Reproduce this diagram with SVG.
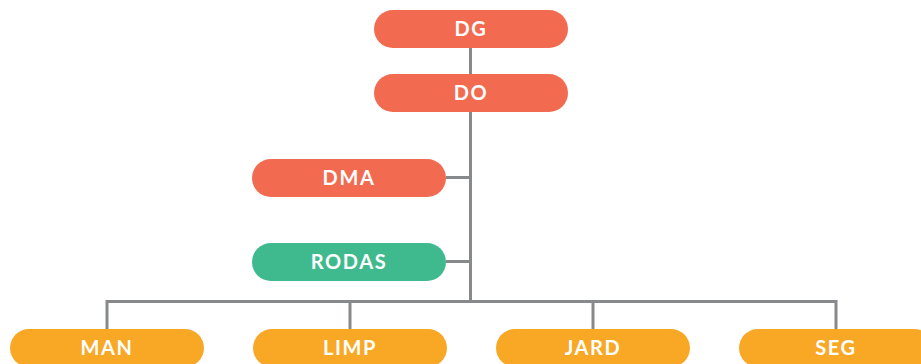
<svg xmlns="http://www.w3.org/2000/svg" width="921" height="364" viewBox="0 0 921 364">
  <style>
    .red { fill: #F26A50; }
    .green { fill: #3FBA8E; }
    .amber { fill: #F9A826; }
    .lbl { fill: #FFFFFF; font-family: Lato, "Open Sans", sans-serif; font-weight: 700; font-size: 20px; letter-spacing: 1.6px; text-anchor: middle; }
    .wire { fill: none; stroke: #87898C; stroke-width: 3; }
  </style>
  <rect width="921" height="364" fill="#FFFFFF"/>
  <!-- connectors -->
  <g id="connectors">
    <path class="wire" d="M470.5 48 V74"/>
    <path class="wire" d="M470.5 112 V301.5"/>
    <path class="wire" d="M446 177.5 H470.5"/>
    <path class="wire" d="M446 261.5 H470.5"/>
    <path class="wire" d="M107 329 V301.5 H836 V329"/>
    <path class="wire" d="M350 301.5 V329"/>
    <path class="wire" d="M593 301.5 V329"/>
  </g>
  <!-- nodes -->
  <g id="DG">
    <rect class="red" x="374" y="10" width="194" height="38" rx="19"/>
    <text class="lbl" x="471" y="36">DG</text>
  </g>
  <g id="DO">
    <rect class="red" x="374" y="74" width="194" height="38" rx="19"/>
    <text class="lbl" x="471" y="100">DO</text>
  </g>
  <g id="DMA">
    <rect class="red" x="252" y="159" width="194" height="38" rx="19"/>
    <text class="lbl" x="349" y="185">DMA</text>
  </g>
  <g id="RODAS">
    <rect class="green" x="252" y="243" width="194" height="38" rx="19"/>
    <text class="lbl" x="349" y="269">RODAS</text>
  </g>
  <g id="MAN">
    <rect class="amber" x="10" y="329" width="194" height="38" rx="19"/>
    <text class="lbl" x="107" y="355">MAN</text>
  </g>
  <g id="LIMP">
    <rect class="amber" x="253" y="329" width="194" height="38" rx="19"/>
    <text class="lbl" x="350" y="355">LIMP</text>
  </g>
  <g id="JARD">
    <rect class="amber" x="496" y="329" width="194" height="38" rx="19"/>
    <text class="lbl" x="593" y="355">JARD</text>
  </g>
  <g id="SEG">
    <rect class="amber" x="739" y="329" width="194" height="38" rx="19"/>
    <text class="lbl" x="836" y="355">SEG</text>
  </g>
</svg>
